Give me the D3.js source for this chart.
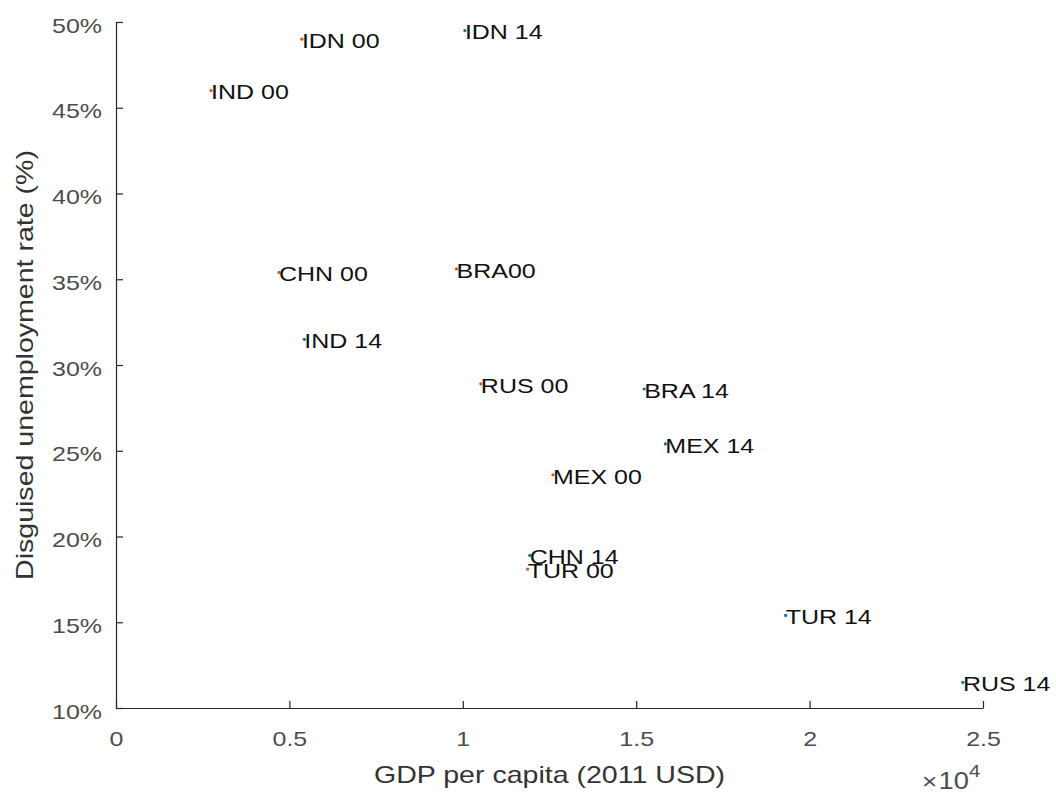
<!DOCTYPE html>
<html>
<head>
<meta charset="utf-8">
<script src="https://cdn.jsdelivr.net/npm/d3@7"></script>
<style>
  html, body { margin: 0; padding: 0; background: #fff; }
  svg { display: block; }
  text { font-family: "Liberation Sans", Arial, Helvetica, sans-serif; }
</style>
</head>
<body>
<svg id="chart" width="1056" height="793"></svg>
<script>
// Country-year labels, GDP per capita (2011 USD) and disguised unemployment rate (%)
const labels2014 = ["IDN 14", "IND 14", "CHN 14", "BRA 14", "MEX 14", "TUR 14", "RUS 14"];
const gdp2014    = [10060, 5430, 11930, 15230, 15840, 19310, 24420];
const rate2014   = [49.5, 31.5, 18.9, 28.6, 25.4, 15.4, 11.5];

const labels2000 = ["IDN 00", "IND 00", "CHN 00", "BRA00", "MEX 00", "TUR 00", "RUS 00"];
const gdp2000    = [5360, 2740, 4700, 9820, 12600, 11870, 10520];
const rate2000   = [49.0, 46.0, 35.4, 35.6, 23.6, 18.1, 28.9];

const xTicks = [0, 5000, 10000, 15000, 20000, 25000];
const yTicks = [10, 15, 20, 25, 30, 35, 40, 45, 50];

const colors = { y2014: "#0072BD", y2000: "#D95319" };

const svg = d3.select("#chart");
const margin = { left: 116, right: 1056 - 983, top: 22, bottom: 793 - 708 };
const W = 1056 - margin.left - margin.right;
const H = 793 - margin.top - margin.bottom;
const SX = 1.19; // horizontal glyph stretch for text

const x = d3.scaleLinear().domain([0, 25000]).range([0, W]);
const y = d3.scaleLinear().domain([10, 50]).range([H, 0]);

const g = svg.append("g").attr("transform", `translate(${margin.left},${margin.top})`);

const axisColor = "#262626";
const tickTextColor = "#4d4d4d";

// x axis (ticks point inward)
const gx = g.append("g")
  .attr("transform", `translate(0,${H})`)
  .call(d3.axisBottom(x).tickValues(xTicks).tickSizeInner(-7).tickSizeOuter(0)
    .tickPadding(23).tickFormat(d => d3.format("~g")(d / 1e4)));
gx.select(".domain").attr("stroke", axisColor).attr("stroke-width", 1.2);
gx.selectAll(".tick line").attr("stroke", axisColor).attr("stroke-width", 1.2);
gx.selectAll(".tick text")
  .attr("font-size", 21).attr("fill", tickTextColor)
  .attr("font-family", "Liberation Sans, Arial, sans-serif")
  .attr("transform", `scale(${SX},1)`);

// y axis (ticks point inward)
const gy = g.append("g")
  .call(d3.axisLeft(y).tickValues(yTicks).tickSizeInner(-7).tickSizeOuter(0)
    .tickPadding(14).tickFormat(d => d + "%"));
gy.select(".domain").attr("stroke", axisColor).attr("stroke-width", 1.2);
gy.selectAll(".tick line").attr("stroke", axisColor).attr("stroke-width", 1.2);
gy.selectAll(".tick text")
  .attr("font-size", 21).attr("fill", tickTextColor)
  .attr("font-family", "Liberation Sans, Arial, sans-serif")
  .attr("x", -14 / SX).attr("dy", "0.48em")
  .attr("transform", `scale(${SX},1)`);

// axis titles
svg.append("text")
  .attr("transform", `translate(${margin.left + W / 2},783) scale(${SX},1)`)
  .attr("text-anchor", "middle").attr("font-size", 24).attr("fill", "#333")
  .text("GDP per capita (2011 USD)");

svg.append("text")
  .attr("transform", `translate(33,${margin.top + H / 2}) rotate(-90) scale(${SX},1)`)
  .attr("text-anchor", "middle").attr("font-size", 24).attr("fill", "#333")
  .text("Disguised unemployment rate (%)");

// exponent multiplier for the x axis
const mult = svg.append("text")
  .attr("transform", `translate(922,789) scale(${SX},1)`)
  .attr("font-size", 23).attr("fill", tickTextColor);
mult.append("tspan").attr("font-size", 22).text("\u00d7");
mult.append("tspan").attr("font-size", 23).attr("dx", 1).text("10");
mult.append("tspan").attr("font-size", 17).attr("dy", -12).text("4");

// points and their labels
function series(labels, xs, ys, color) {
  const data = labels.map((l, i) => ({ label: l, gdp: xs[i], rate: ys[i] }));
  const sg = g.append("g");
  sg.selectAll("circle").data(data).join("circle")
    .attr("cx", d => x(d.gdp)).attr("cy", d => y(d.rate))
    .attr("r", 1.6).attr("fill", color);
  sg.selectAll("text").data(data).join("text")
    .attr("transform", d => `translate(${x(d.gdp)},${y(d.rate)}) scale(${SX},1)`)
    .attr("dy", "0.42em").attr("font-size", 21).attr("fill", "#111")
    .text(d => d.label);
}
series(labels2014, gdp2014, rate2014, colors.y2014);
series(labels2000, gdp2000, rate2000, colors.y2000);
</script>
</body>
</html>
